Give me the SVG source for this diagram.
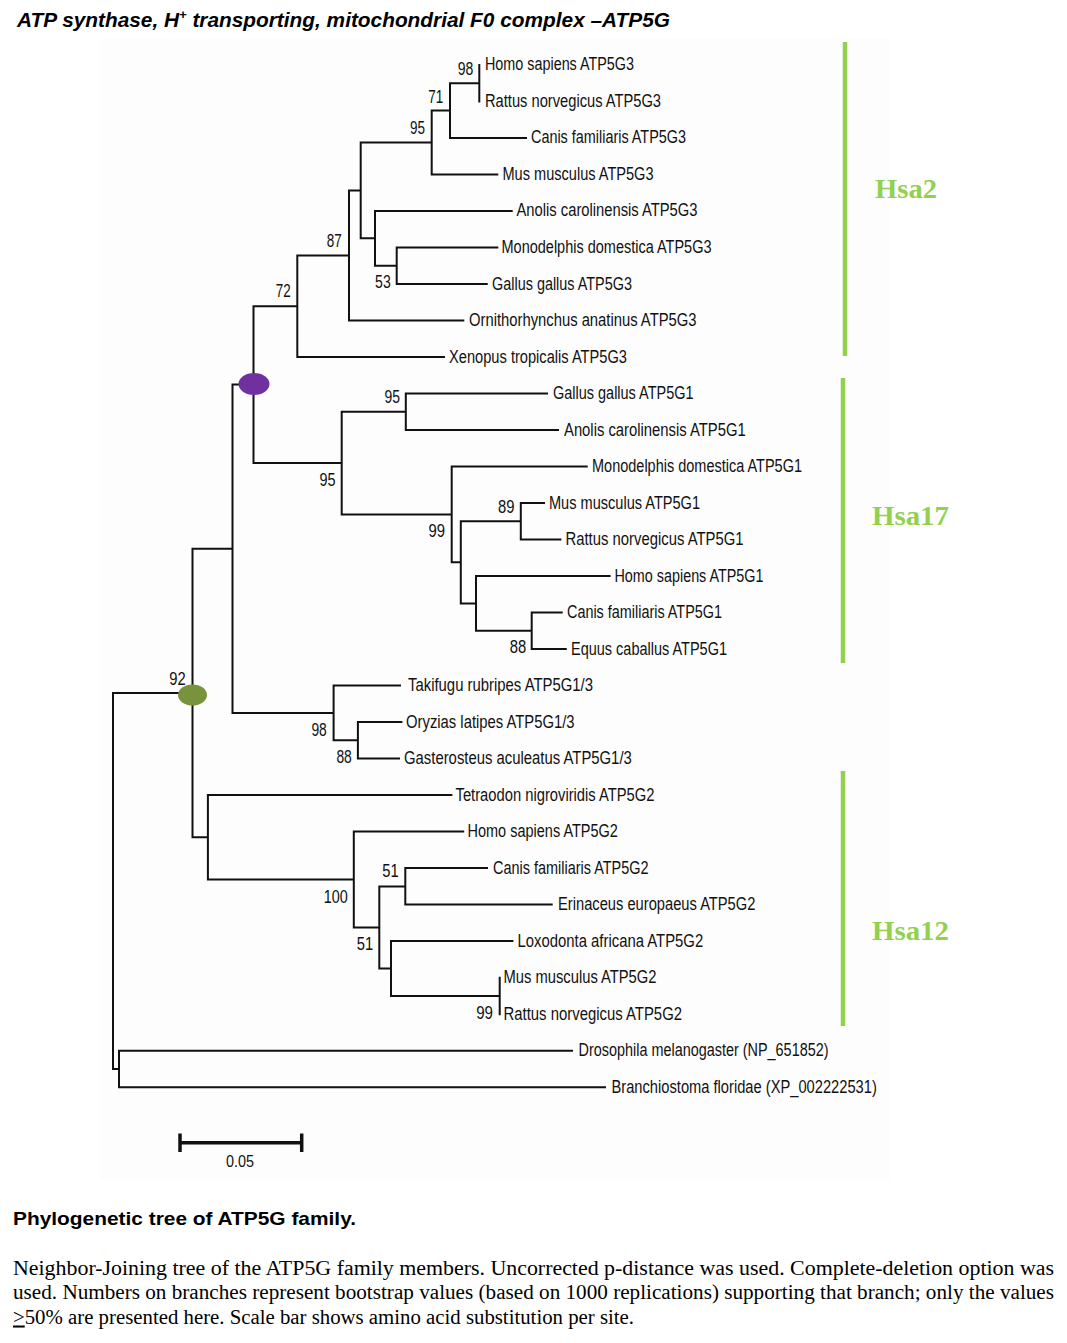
<svg xmlns="http://www.w3.org/2000/svg" width="1067" height="1343" viewBox="0 0 1067 1343">
<style>
.lf{font-family:"Liberation Sans",Arial,sans-serif;font-size:17.5px;fill:#111}
.bs{font-family:"Liberation Sans",Arial,sans-serif;font-size:17.5px;fill:#111;text-anchor:end}
.br{fill:none;stroke:#111;stroke-width:2;stroke-linecap:square}
.bar{stroke:#92D050;stroke-width:4.5}
.hsa{font-family:"Liberation Serif","Times New Roman",serif;font-weight:bold;font-size:28px;fill:#92D050}
.cap{font-family:"Liberation Serif","Times New Roman",serif;font-size:20.5px;fill:#000}
</style>
<rect x="0" y="0" width="1067" height="1343" fill="#fff"/>
<rect x="100" y="38" width="790" height="1142" fill="#fdfdfd"/>
<text x="17" y="27" font-family="Liberation Sans,Arial,sans-serif" font-weight="bold" font-style="italic" font-size="21" textLength="653" lengthAdjust="spacingAndGlyphs">ATP synthase, H<tspan font-size="13" dy="-8">+</tspan><tspan dy="8"> transporting, mitochondrial F0 complex –ATP5G</tspan></text>

<g id="connectors">
<path class="br" d="M113,693V1069M113,693H192.5M113,1069H119
M119,1050.7V1087.2M119,1050.7H572M119,1087.2H605
M192.5,548.8V837.3M192.5,548.8H232.5M192.5,837.3H207.9
M232.5,384.6V713M232.5,384.6H253.5M232.5,713H333.6
M253.5,306.2V463.1M253.5,306.2H297.3M253.5,463.1H341.7
M297.3,255.5V357M297.3,255.5H349M297.3,357H444
M349,190.4V320.5M349,190.4H360.7M349,320.5H463.3
M360.7,142.5V238.3M360.7,142.5H431.7M360.7,238.3H375
M431.7,110.5V174.4M431.7,110.5H450M431.7,174.4H497.3
M450,83.2V137.9M450,83.2H479.3M450,137.9H526
M479.3,64.9V101.4
M375,210.9V265.7M375,210.9H511.7M375,265.7H396.7
M396.7,247.5V284M396.7,247.5H497.3M396.7,284H486.7
M341.7,411.7V514.4M341.7,411.7H405.8M341.7,514.4H451.7
M405.8,393.5V430M405.8,393.5H547M405.8,430H558
M451.7,466.5V562.3M451.7,466.5H586.7M451.7,562.3H460.8
M460.8,521.2V603.4M460.8,521.2H520.8M460.8,603.4H476
M520.8,503V539.5M520.8,503H544M520.8,539.5H560.4
M476,576V630.8M476,576H609.6M476,630.8H531.7
M531.7,612.6V649.1M531.7,612.6H561.7M531.7,649.1H565.8
M333.6,685.6V740.3M333.6,685.6H400M333.6,740.3H357.9
M357.9,722.1V758.6M357.9,722.1H401.4M357.9,758.6H399
M207.9,795.1V879.5M207.9,795.1H451.4M207.9,879.5H353.8
M353.8,831.6V927.4M353.8,831.6H463.2M353.8,927.4H379.3
M379.3,886.4V968.5M379.3,886.4H405.3M379.3,968.5H391
M405.3,868.1V904.6M405.3,868.1H487M405.3,904.6H551.7
M391,941.1V995.9M391,941.1H512.4M391,995.9H499.7
M499.7,977.7V1014.2"/>
</g>

<g id="markers">
<ellipse id="node-purple" cx="254" cy="384" rx="15.5" ry="11" fill="#7030A0"/>
<ellipse id="node-green" cx="192.5" cy="695" rx="14.5" ry="10.5" fill="#77933C"/>
</g>

<g id="bootstrap">
<text class="bs" x="473.3" y="75" textLength="15.6" lengthAdjust="spacingAndGlyphs">98</text>
<text class="bs" x="443.3" y="103.3" textLength="15" lengthAdjust="spacingAndGlyphs">71</text>
<text class="bs" x="425" y="134" textLength="15" lengthAdjust="spacingAndGlyphs">95</text>
<text class="bs" x="341.7" y="246.7" textLength="15" lengthAdjust="spacingAndGlyphs">87</text>
<text class="bs" x="290.7" y="297.3" textLength="15" lengthAdjust="spacingAndGlyphs">72</text>
<text class="bs" x="390.7" y="288.3" textLength="15.6" lengthAdjust="spacingAndGlyphs">53</text>
<text class="bs" x="400" y="403.3" textLength="15.5" lengthAdjust="spacingAndGlyphs">95</text>
<text class="bs" x="335.4" y="485.7" textLength="16" lengthAdjust="spacingAndGlyphs">95</text>
<text class="bs" x="445" y="536.7" textLength="16.5" lengthAdjust="spacingAndGlyphs">99</text>
<text class="bs" x="514.6" y="512.7" textLength="16.5" lengthAdjust="spacingAndGlyphs">89</text>
<text class="bs" x="526.2" y="653.3" textLength="16.5" lengthAdjust="spacingAndGlyphs">88</text>
<text class="bs" x="185.7" y="685" textLength="16.4" lengthAdjust="spacingAndGlyphs">92</text>
<text class="bs" x="326.8" y="735.7" textLength="15.4" lengthAdjust="spacingAndGlyphs">98</text>
<text class="bs" x="351.8" y="763.3" textLength="15.4" lengthAdjust="spacingAndGlyphs">88</text>
<text class="bs" x="398.7" y="877.3" textLength="16.4" lengthAdjust="spacingAndGlyphs">51</text>
<text class="bs" x="347.7" y="903.3" textLength="24" lengthAdjust="spacingAndGlyphs">100</text>
<text class="bs" x="373.2" y="950" textLength="16.4" lengthAdjust="spacingAndGlyphs">51</text>
<text class="bs" x="493" y="1019" textLength="16.8" lengthAdjust="spacingAndGlyphs">99</text>
</g>

<g id="leaf-homo-g3"><text class="lf" x="485" y="70.4" textLength="149" lengthAdjust="spacingAndGlyphs">Homo sapiens ATP5G3</text></g>
<g id="leaf-rattus-g3"><text class="lf" x="485" y="106.9" textLength="176" lengthAdjust="spacingAndGlyphs">Rattus norvegicus ATP5G3</text></g>
<g id="leaf-canis-g3"><text class="lf" x="531" y="143.4" textLength="155" lengthAdjust="spacingAndGlyphs">Canis familiaris ATP5G3</text></g>
<g id="leaf-mus-g3"><text class="lf" x="502.5" y="179.9" textLength="151" lengthAdjust="spacingAndGlyphs">Mus musculus ATP5G3</text></g>
<g id="leaf-anolis-g3"><text class="lf" x="516.5" y="216.4" textLength="181" lengthAdjust="spacingAndGlyphs">Anolis carolinensis ATP5G3</text></g>
<g id="leaf-monodelphis-g3"><text class="lf" x="501.5" y="253" textLength="210" lengthAdjust="spacingAndGlyphs">Monodelphis domestica ATP5G3</text></g>
<g id="leaf-gallus-g3"><text class="lf" x="492" y="289.5" textLength="140" lengthAdjust="spacingAndGlyphs">Gallus gallus ATP5G3</text></g>
<g id="leaf-ornithorhynchus-g3"><text class="lf" x="469" y="326" textLength="227.5" lengthAdjust="spacingAndGlyphs">Ornithorhynchus anatinus ATP5G3</text></g>
<g id="leaf-xenopus-g3"><text class="lf" x="449" y="362.5" textLength="178" lengthAdjust="spacingAndGlyphs">Xenopus tropicalis ATP5G3</text></g>
<g id="leaf-gallus-g1"><text class="lf" x="553" y="399" textLength="140.5" lengthAdjust="spacingAndGlyphs">Gallus gallus ATP5G1</text></g>
<g id="leaf-anolis-g1"><text class="lf" x="564" y="435.5" textLength="181.7" lengthAdjust="spacingAndGlyphs">Anolis carolinensis ATP5G1</text></g>
<g id="leaf-monodelphis-g1"><text class="lf" x="592" y="472" textLength="210" lengthAdjust="spacingAndGlyphs">Monodelphis domestica ATP5G1</text></g>
<g id="leaf-mus-g1"><text class="lf" x="549" y="508.5" textLength="151" lengthAdjust="spacingAndGlyphs">Mus musculus ATP5G1</text></g>
<g id="leaf-rattus-g1"><text class="lf" x="565.5" y="545" textLength="178" lengthAdjust="spacingAndGlyphs">Rattus norvegicus ATP5G1</text></g>
<g id="leaf-homo-g1"><text class="lf" x="614.5" y="581.5" textLength="149" lengthAdjust="spacingAndGlyphs">Homo sapiens ATP5G1</text></g>
<g id="leaf-canis-g1"><text class="lf" x="567" y="618.1" textLength="155" lengthAdjust="spacingAndGlyphs">Canis familiaris ATP5G1</text></g>
<g id="leaf-equus-g1"><text class="lf" x="571" y="654.6" textLength="156" lengthAdjust="spacingAndGlyphs">Equus caballus ATP5G1</text></g>
<g id="leaf-takifugu"><text class="lf" x="408" y="691.1" textLength="185" lengthAdjust="spacingAndGlyphs">Takifugu rubripes ATP5G1/3</text></g>
<g id="leaf-oryzias"><text class="lf" x="406" y="727.6" textLength="168.6" lengthAdjust="spacingAndGlyphs">Oryzias latipes ATP5G1/3</text></g>
<g id="leaf-gasterosteus"><text class="lf" x="404" y="764.1" textLength="227.8" lengthAdjust="spacingAndGlyphs">Gasterosteus aculeatus ATP5G1/3</text></g>
<g id="leaf-tetraodon-g2"><text class="lf" x="455.5" y="800.6" textLength="199" lengthAdjust="spacingAndGlyphs">Tetraodon nigroviridis ATP5G2</text></g>
<g id="leaf-homo-g2"><text class="lf" x="467.5" y="837.1" textLength="150.4" lengthAdjust="spacingAndGlyphs">Homo sapiens ATP5G2</text></g>
<g id="leaf-canis-g2"><text class="lf" x="493" y="873.6" textLength="155.6" lengthAdjust="spacingAndGlyphs">Canis familiaris ATP5G2</text></g>
<g id="leaf-erinaceus-g2"><text class="lf" x="558" y="910.1" textLength="197.4" lengthAdjust="spacingAndGlyphs">Erinaceus europaeus ATP5G2</text></g>
<g id="leaf-loxodonta-g2"><text class="lf" x="517.5" y="946.6" textLength="185.7" lengthAdjust="spacingAndGlyphs">Loxodonta africana ATP5G2</text></g>
<g id="leaf-mus-g2"><text class="lf" x="503.5" y="983.2" textLength="153" lengthAdjust="spacingAndGlyphs">Mus musculus ATP5G2</text></g>
<g id="leaf-rattus-g2"><text class="lf" x="503.5" y="1019.7" textLength="178.5" lengthAdjust="spacingAndGlyphs">Rattus norvegicus ATP5G2</text></g>
<g id="leaf-drosophila"><text class="lf" x="578.5" y="1056.2" textLength="250" lengthAdjust="spacingAndGlyphs">Drosophila melanogaster (NP_651852)</text></g>
<g id="leaf-branchiostoma"><text class="lf" x="611.5" y="1092.7" textLength="265.3" lengthAdjust="spacingAndGlyphs">Branchiostoma floridae (XP_002222531)</text></g>

<g id="group-hsa2">
<line class="bar" x1="845" y1="42" x2="845" y2="356"/>
<text class="hsa" x="875" y="198" textLength="62" lengthAdjust="spacingAndGlyphs">Hsa2</text>
</g>
<g id="group-hsa17">
<line class="bar" x1="843" y1="378" x2="843" y2="663"/>
<text class="hsa" x="872" y="525" textLength="77" lengthAdjust="spacingAndGlyphs">Hsa17</text>
</g>
<g id="group-hsa12">
<line class="bar" x1="843" y1="771" x2="843" y2="1026"/>
<text class="hsa" x="872" y="940" textLength="77" lengthAdjust="spacingAndGlyphs">Hsa12</text>
</g>

<g id="scale-bar">
<path d="M180,1142.7H301.7M180,1133.5V1152M301.7,1133.5V1152" stroke="#111" stroke-width="3.5" fill="none"/>
<text x="240" y="1166.5" text-anchor="middle" font-family="Liberation Sans,Arial,sans-serif" font-size="16" fill="#111" textLength="28" lengthAdjust="spacingAndGlyphs">0.05</text>
</g>

<g id="caption">
<text x="13" y="1224.5" font-family="Liberation Sans,Arial,sans-serif" font-weight="bold" font-size="18.5" fill="#000" textLength="343" lengthAdjust="spacingAndGlyphs">Phylogenetic tree of ATP5G family.</text>
<text class="cap" x="13" y="1274.5" textLength="1041" lengthAdjust="spacingAndGlyphs">Neighbor-Joining tree of the ATP5G family members. Uncorrected p-distance was used. Complete-deletion option was</text>
<text class="cap" x="13" y="1299" textLength="1041" lengthAdjust="spacingAndGlyphs">used. Numbers on branches represent bootstrap values (based on 1000 replications) supporting that branch; only the values</text>
<text class="cap" x="13" y="1323.5" textLength="621" lengthAdjust="spacingAndGlyphs"><tspan text-decoration="underline">&gt;</tspan>50% are presented here. Scale bar shows amino acid substitution per site.</text>
</g>
</svg>
